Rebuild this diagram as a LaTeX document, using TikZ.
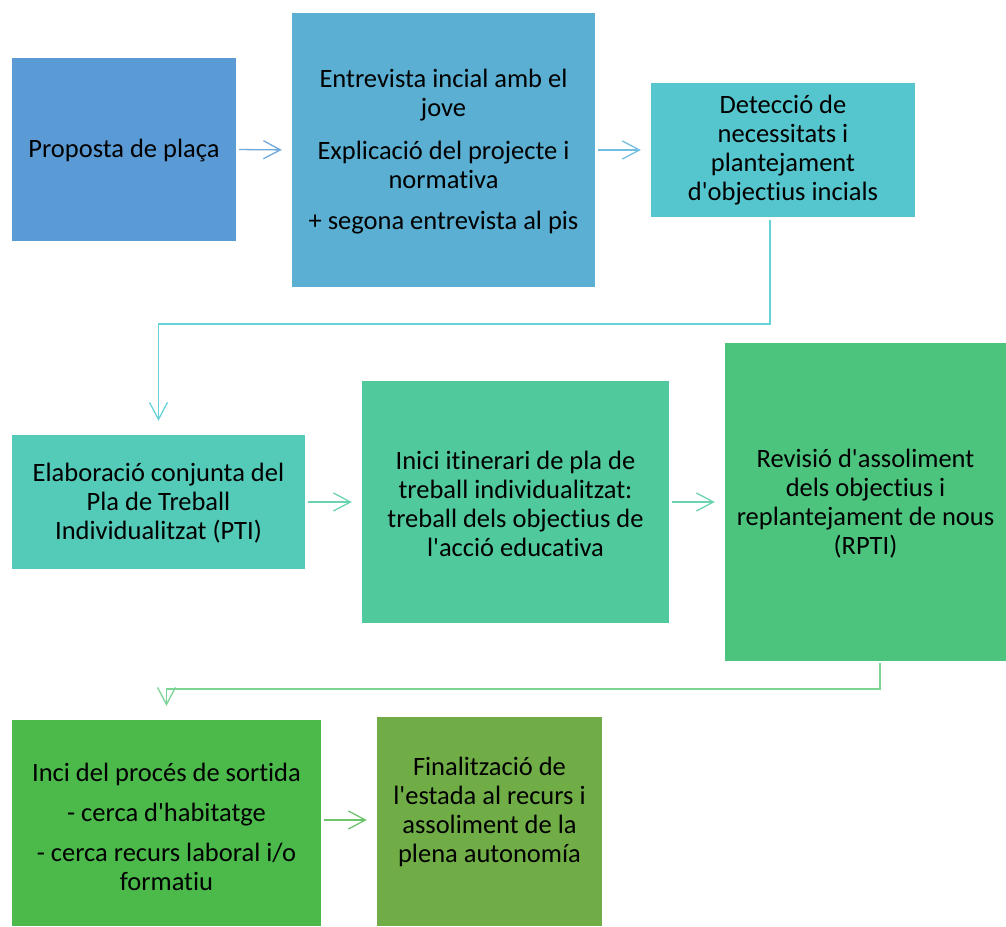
\documentclass[tikz,border=0pt]{standalone}
\usepackage{fontspec}
\setmainfont{Carlito}[Ligatures={TeXOff,CommonOff}]
\usetikzlibrary{arrows.meta}
\definecolor{cA}{HTML}{5B9BD5}
\definecolor{cB}{HTML}{5AAFD3}
\definecolor{cC}{HTML}{55C6CE}
\definecolor{cD}{HTML}{53CBB8}
\definecolor{cE}{HTML}{50C99D}
\definecolor{cF}{HTML}{4DC47E}
\definecolor{cG}{HTML}{4BBA4B}
\definecolor{cH}{HTML}{70AD47}
\definecolor{aA}{HTML}{6FA8DC}
\definecolor{aB}{HTML}{72BEE0}
\definecolor{aC}{HTML}{64D2D6}
\definecolor{aD}{HTML}{6BD3AE}
\definecolor{aE}{HTML}{7CD494}
\definecolor{aF}{HTML}{6CC46B}
\tikzset{
  box/.style={rectangle, inner sep=0pt},
  txt/.style={inner sep=0pt, align=center, text=black,
    font=\fontsize{26.5}{29}\selectfont},
  flow/.style={line width=1.3pt, -{Straight Barb[length=17pt,width=18pt,line width=1.3pt]},
    shorten <=3pt, shorten >=10pt},
  conn/.style={line width=1.8pt, -{Straight Barb[length=17pt,width=18pt,line width=1.3pt]}},
}
\begin{document}
\begin{tikzpicture}[x=1pt,y=-1pt]
\useasboundingbox (0,0) rectangle (1006,926);
\node[box, fill=cA, minimum width=224pt, minimum height=183pt] (b1) at (124,149.5) {};
\node[box, fill=cB, minimum width=303pt, minimum height=274pt] (b2) at (443.5,150) {};
\node[box, fill=cC, minimum width=264pt, minimum height=134pt] (b3) at (783,150) {};
\node[box, fill=cD, minimum width=293pt, minimum height=134pt] (b4) at (158.5,502) {};
\node[box, fill=cE, minimum width=307pt, minimum height=242pt] (b5) at (515.5,502) {};
\node[box, fill=cF, minimum width=281pt, minimum height=318pt] (b6) at (865.5,502) {};
\node[box, fill=cG, minimum width=309pt, minimum height=206pt] (b7) at (166.5,823) {};
\node[box, fill=cH, minimum width=225pt, minimum height=209pt] (b8) at (489.5,821.5) {};
% texts
\node[txt] (t1) at (124,151) {Proposta de plaça};
\node[txt] (t2) at (443.5,152)
  {Entrevista incial amb el\\jove\\[14pt]Explicació del projecte i\\normativa\\[12pt]+ segona entrevista al pis};
\node[txt] (t3) at (783,150.5)
  {Detecció de\\necessitats i\\plantejament\\d'objectius incials};
\node[txt] (t4) at (158.5,503)
  {Elaboració conjunta del\\Pla de Treball\\Individualitzat (PTI)};
\node[txt] (t5) at (515.5,504)
  {Inici itinerari de pla de\\treball individualitzat:\\treball dels objectius de\\l'acció educativa};
\node[txt] (t6) at (865.5,504)
  {Revisió d'assoliment\\dels objectius i\\replantejament de nous\\(RPTI)};
\node[txt] (t7) at (166.5,827)
  {Inci del procés de sortida\\[11pt]- cerca d'habitatge\\[11pt]- cerca recurs laboral i/o\\formatiu};
\node[txt] (t8) at (489.5,812)
  {Finalització de\\l'estada al recurs i\\assoliment de la\\plena autonomía};
% horizontal arrows
\draw[flow, aA] (b1.east) -- (b2.west);
\draw[flow, aB] (b2.east) -- (b3.west);
\draw[flow, aD] (b4.east) -- (b5.west);
\draw[flow, aD] (b5.east) -- (b6.west);
\draw[flow, aF] ([yshift=3pt]b7.east) -- ([yshift=3pt]b7.east -| b8.west);
% elbow connectors
\coordinate (k1) at (770,324);
\coordinate (k2) at (880,689);
\draw[conn, aC, shorten <=3pt, shorten >=14pt] ([xshift=-13pt]b3.south) |- (k1) -| (b4.north);
\draw[conn, aE, shorten <=2pt, shorten >=14pt] ([xshift=14.5pt]b6.south) |- (k2) -| (b7.north);
\end{tikzpicture}
\end{document}
